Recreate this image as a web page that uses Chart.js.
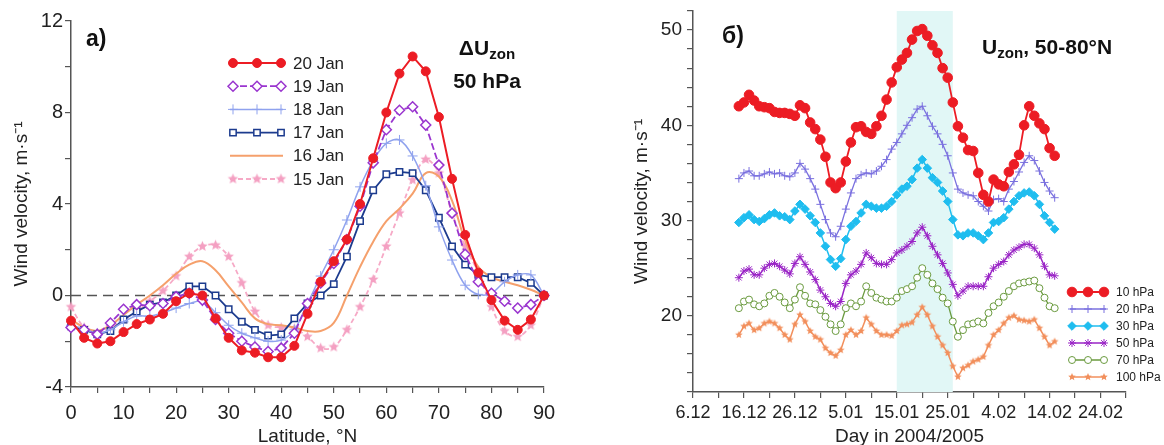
<!DOCTYPE html>
<html>
<head>
<meta charset="utf-8">
<script src="https://cdn.jsdelivr.net/npm/chart.js@4.4.1/dist/chart.umd.min.js"></script>
<style>
  html, body { margin: 0; padding: 0; background: #fff; }
  #wrap { position: relative; width: 1164px; height: 445px; overflow: hidden; font-family: "Liberation Sans", Arial, sans-serif; }
  canvas { position: absolute; top: 0; }
  #leftChart { left: 0; }
  #rightChart { left: 590px; }
  .note { position: absolute; font-weight: bold; color: #111; white-space: nowrap; line-height: 1; }
  .note sub { font-size: 72%; vertical-align: -0.28em; }
</style>
</head>
<body>
<div id="wrap">
  <canvas id="leftChart" width="590" height="445"></canvas>
  <canvas id="rightChart" width="574" height="445"></canvas>
  <div class="note" style="left:86px; top:27px; font-size:23px;">a)</div>
  <div class="note" style="left:427px; top:34px; width:120px; text-align:center; font-size:21px; line-height:27px;">ΔU<sub>zon</sub><br>50 hPa</div>
  <div class="note" style="left:722px; top:24px; font-size:23px;">б)</div>
  <div class="note" style="left:982px; top:36px; font-size:21px;">U<sub>zon</sub>, 50-80°N</div>
</div>
<script>
// ---- panel a): ΔUzon at 50 hPa vs latitude ----
const latitudes = [0, 2.5, 5, 7.5, 10, 12.5, 15, 17.5, 20, 22.5, 25, 27.5, 30, 32.5, 35, 37.5, 40, 42.5, 45,
    47.5, 50, 52.5, 55, 57.5, 60, 62.5, 65, 67.5, 70, 72.5, 75, 77.5, 80, 82.5, 85, 87.5, 90];

const jan20 = [-1.1, -1.85, -2.1, -2.0, -1.6, -1.25, -1.05, -0.8, -0.25, 0.1, 0.0, -1.0, -1.85, -2.4, -2.5, -2.7, -2.7, -2.2, -0.8,
    0.6, 1.5, 2.45, 4.0, 6.0, 8.0, 9.7, 10.45, 9.8, 7.8, 5.1, 2.65, 1.0, -0.2, -1.1, -1.5, -1.05, 0];
const jan19 = [-1.4, -1.5, -1.7, -1.2, -0.6, -0.4, -0.45, -0.35, -0.05, 0.1, -0.2, -1.05, -1.65, -2.0, -2.25, -2.45, -2.3, -1.65, -0.35,
    0.55, 1.4, 2.45, 3.9, 5.8, 7.25, 8.1, 8.25, 7.45, 5.7, 3.6, 1.8, 0.6, 0.1, -0.25, -0.55, -0.4, 0];
const jan18 = [-1.3, -1.45, -1.65, -1.5, -1.15, -0.9, -0.9, -0.75, -0.55, -0.35, -0.25, -0.75, -1.3, -1.65, -1.85, -2.0, -1.95, -1.5, -0.35,
    0.85, 2.0, 3.3, 4.75, 5.9, 6.65, 6.8, 6.1, 4.8, 3.0, 1.55, 0.45, 0.05, 0.1, 0.6, 0.9, 0.9, 0];
const jan17 = [-1.35, -1.5, -1.7, -1.55, -1.05, -0.7, -0.4, -0.3, 0.0, 0.4, 0.4, 0.0, -0.6, -1.15, -1.5, -1.75, -1.7, -1.0, -0.35,
    0.0, 0.5, 1.7, 3.25, 4.6, 5.3, 5.4, 5.35, 4.6, 3.4, 2.15, 1.35, 0.9, 0.8, 0.8, 0.8, 0.55, 0];
const jan16 = [-1.05, -1.4, -1.55, -1.3, -0.85, -0.4, 0, 0.45, 0.95, 1.35, 1.5, 1.1, 0.4, -0.3, -1.0, -1.25, -1.3, -1.4, -1.55,
    -1.55, -1.2, 0, 1.25, 2.35, 3.25, 3.8, 4.45, 5.35, 5.2, 4.15, 2.4, 1.25, 0.8, 0.6, 0.45, 0.25, 0];
const jan15 = [-0.5, -1.4, -1.65, -1.4, -1.05, -0.7, -0.25, 0.2, 0.85, 1.7, 2.15, 2.2, 1.7, 0.55, -0.7, -1.3, -1.4, -1.45, -1.8,
    -2.3, -2.25, -1.5, -0.5, 0.7, 2.15, 3.6, 5.05, 5.95, 5.35, 3.6, 2.15, 1.0, -0.5, -1.55, -1.8, -1.3, 0];

// ---- panel б): Uzon 50-80°N, days counted from 6.12.2004 ----
const days = Array.from({ length: 63 }, (_, i) => 9 + i);   // 15.12 ... 15.02
const dayTickLabels = ['6.12', '16.12', '26.12', '5.01', '15.01', '25.01', '4.02', '14.02', '24.02'];
const shadedDays = [40, 51];

const hpa10 = [42.0, 42.4, 43.2, 42.6, 42.0, 41.9, 41.8, 41.4, 41.3, 41.3, 41.2, 41.0,
    42.1, 41.8, 40.3, 39.6, 38.5, 36.7, 34.0, 33.4, 34.0, 36.2,
    38.2, 39.8, 39.9, 39.3, 39.1, 39.9, 41.0, 42.7, 44.5, 46.1,
    46.9, 47.6, 49.0, 49.9, 50.1, 49.4, 48.4, 47.6, 46.0, 45.0,
    42.4, 39.9, 38.7, 37.4, 37.3, 35.0, 32.7, 32.0, 34.3, 33.8,
    33.6, 35.1, 35.9, 36.9, 40.0, 42.0, 41.0, 40.2, 39.6, 37.6, 36.8];
const hpa20 = [34.4, 35.0, 35.2, 34.7, 34.7, 34.9, 35.1, 34.9, 35.0, 34.7, 34.6, 35.0,
    36.0, 35.4, 34.4, 33.3, 31.7, 30.1, 28.7, 28.3, 29.4, 31.2,
    32.9, 34.4, 34.8, 35.0, 34.9, 35.2, 35.7, 36.4, 37.5, 38.2,
    39.1, 40.0, 40.8, 41.7, 42.0, 41.0, 39.9, 39.1, 38.0, 36.8,
    35.0, 33.3, 32.9, 32.7, 32.6, 32.0, 31.5, 31.0, 32.2, 32.3,
    32.0, 33.3, 34.1, 35.1, 36.1, 36.8, 36.3, 35.2, 34.0, 33.1, 32.4];
const hpa30 = [29.8, 30.3, 30.6, 30.1, 29.9, 30.2, 30.6, 30.8, 30.5, 30.4, 30.1, 31.0,
    31.7, 31.2, 30.5, 29.8, 28.7, 27.3, 25.9, 25.2, 26.0, 28.0,
    29.4, 29.9, 30.8, 31.7, 31.5, 31.3, 31.3, 31.5, 32.0, 32.7,
    33.3, 33.6, 34.3, 35.5, 36.4, 35.5, 34.5, 34.0, 33.1, 32.0,
    30.1, 28.5, 28.4, 28.7, 28.7, 28.4, 28.0, 28.7, 29.8, 29.9,
    30.3, 31.2, 32.0, 32.6, 32.9, 33.0, 32.6, 31.7, 30.5, 29.8, 29.1];
const hpa50 = [24.0, 24.7, 24.9, 24.3, 24.3, 25.0, 25.4, 25.5, 25.2, 24.8, 24.4, 25.5,
    26.2, 25.4, 24.6, 23.8, 22.7, 22.0, 21.3, 21.0, 21.5, 23.4,
    24.3, 24.7, 25.4, 26.6, 26.1, 25.5, 25.4, 25.4, 25.9, 26.6,
    26.9, 27.3, 27.8, 28.7, 29.3, 28.4, 27.3, 26.4, 25.5, 24.5,
    23.3, 22.1, 22.6, 23.1, 23.1, 23.1, 23.1, 24.1, 25.0, 25.4,
    25.7, 26.4, 26.9, 27.2, 27.5, 27.5, 27.1, 26.4, 25.2, 24.3, 24.2];
const hpa70 = [20.8, 21.5, 21.7, 21.2, 21.0, 21.3, 22.1, 22.4, 22.0, 21.4, 20.8, 21.7,
    23.0, 22.1, 21.3, 21.2, 20.6, 19.9, 19.1, 18.4, 19.1, 20.8,
    21.3, 21.0, 21.5, 23.1, 22.4, 21.9, 21.7, 21.5, 21.5, 21.9,
    22.6, 22.8, 23.1, 24.0, 25.0, 24.3, 23.4, 22.8, 21.9, 21.3,
    19.4, 17.8, 18.5, 19.1, 19.2, 19.4, 19.2, 20.3, 21.0, 21.4,
    22.0, 22.6, 23.1, 23.4, 23.5, 23.6, 23.7, 22.9, 21.9, 21.0, 20.8];
const hpa100 = [18.0, 18.9, 19.2, 18.5, 18.7, 19.2, 19.4, 19.2, 18.7, 18.0, 17.5, 19.1,
    20.1, 19.4, 18.4, 17.8, 17.5, 16.6, 16.1, 15.8, 16.4, 18.0,
    18.5, 18.0, 18.4, 19.8, 19.1, 18.4, 18.0, 18.0, 17.9, 18.4,
    19.0, 19.1, 19.3, 20.1, 20.9, 20.1, 18.9, 17.8, 16.9, 16.1,
    14.7, 13.6, 14.5, 14.8, 15.2, 15.4, 15.7, 16.9, 18.0, 18.5,
    19.2, 19.8, 20.0, 19.6, 19.5, 19.4, 19.6, 18.7, 17.8, 16.9, 17.3];

// ---- styles ----
const FONT = '"Liberation Sans", Arial, sans-serif';
Chart.defaults.font.family = FONT;
Chart.defaults.color = '#222';

// filled five-point star used as a point style
function starMark(color, r) {
    const c = document.createElement('canvas');
    c.width = c.height = Math.ceil(2 * r + 2);
    const g = c.getContext('2d');
    const cx = c.width / 2, cy = c.height / 2;
    g.beginPath();
    for (let k = 0; k < 10; k++) {
        const rad = k % 2 === 0 ? r : r * 0.45;
        const a = -Math.PI / 2 + k * Math.PI / 5;
        g.lineTo(cx + rad * Math.cos(a), cy + rad * Math.sin(a));
    }
    g.closePath();
    g.fillStyle = color;
    g.fill();
    return c;
}

const leftSeries = [
    { label: '20 Jan', ys: jan20, color: '#ec1c24', width: 2, point: 'circle', r: 4.5, fill: '#ec1c24' },
    { label: '19 Jan', ys: jan19, color: '#9a35cf', width: 1.8, dash: [7, 3], point: 'rectRot', r: 5, fill: '#fff', pw: 1.5 },
    { label: '18 Jan', ys: jan18, color: '#8fa2ee', width: 1.5, point: 'cross', r: 5, fill: '#8fa2ee', tension: 0.35 },
    { label: '17 Jan', ys: jan17, color: '#1c3b8e', width: 1.8, point: 'rect', r: 4.5, fill: '#fff', pw: 1.5 },
    { label: '16 Jan', ys: jan16, color: '#f5a06c', width: 2, tension: 0.4 },
    { label: '15 Jan', ys: jan15, color: '#f6a9c6', width: 1.8, dash: [5, 3], point: starMark('#f4a0c2', 5.5), r: 5, fill: '#f6a9c6', tension: 0.35 }
];
const rightSeries = [
    { label: '10 hPa', ys: hpa10, color: '#ec1c24', width: 1.8, point: 'circle', r: 4.8, fill: '#ec1c24' },
    { label: '20 hPa', ys: hpa20, color: '#7a70df', width: 1.3, point: 'cross', r: 4, fill: '#7a70df' },
    { label: '30 hPa', ys: hpa30, color: '#1fbdef', width: 1.5, point: 'rectRot', r: 4.3, fill: '#1fbdef' },
    { label: '50 hPa', ys: hpa50, color: '#9a24c6', width: 1.5, point: 'star', r: 4, fill: '#9a24c6' },
    { label: '70 hPa', ys: hpa70, color: '#6a9a3e', width: 1.3, point: 'circle', r: 3.5, fill: '#fff' },
    { label: '100 hPa', ys: hpa100, color: '#f28f5c', width: 1.5, point: starMark('#f28f5c', 4), r: 3, fill: '#f28f5c' }
];

function toDataset(s, xs) {
    return {
        label: s.label,
        data: xs.map((x, i) => ({ x: x, y: s.ys[i] })),
        borderColor: s.color,
        backgroundColor: s.fill || s.color,
        borderWidth: s.width,
        borderDash: s.dash || [],
        pointStyle: s.point || 'circle',
        pointRadius: s.point ? s.r : 0,
        pointBorderColor: s.color,
        pointBackgroundColor: s.fill || s.color,
        pointBorderWidth: s.pw || 1,
        tension: s.tension || 0,
        clip: false
    };
}

function drawMarker(ctx, s, x, y) {
    if (!s.point) return;
    ctx.save();
    ctx.setLineDash([]);
    ctx.fillStyle = s.fill || s.color;
    ctx.strokeStyle = s.color;
    ctx.lineWidth = s.pw || 1;
    Chart.helpers.drawPoint(ctx, { pointStyle: s.point, radius: s.r, rotation: 0, borderWidth: s.pw || 1 }, x, y);
    ctx.restore();
}

function legendPlugin(id, series, box) {
    return {
        id: id,
        afterDraw(chart) {
            const ctx = chart.ctx;
            ctx.save();
            series.forEach((s, i) => {
                const y = box.y + i * box.step;
                ctx.strokeStyle = s.color;
                ctx.lineWidth = s.width;
                ctx.setLineDash(s.dash || []);
                ctx.beginPath();
                ctx.moveTo(box.x0, y);
                ctx.lineTo(box.x1, y);
                ctx.stroke();
                box.marks.forEach(mx => drawMarker(ctx, s, mx, y));
                ctx.setLineDash([]);
                ctx.fillStyle = '#222';
                ctx.font = box.font + 'px ' + FONT;
                ctx.textBaseline = 'middle';
                ctx.textAlign = 'left';
                ctx.fillText(s.label, box.tx, y + 1);
            });
            ctx.restore();
        }
    };
}

const zeroLine = {
    id: 'zeroLine',
    beforeDatasetsDraw(chart) {
        const { ctx, chartArea, scales } = chart;
        const y = scales.y.getPixelForValue(0);
        ctx.save();
        ctx.strokeStyle = '#555';
        ctx.lineWidth = 1.3;
        ctx.setLineDash([10, 6]);
        ctx.beginPath();
        ctx.moveTo(chartArea.left, y);
        ctx.lineTo(chartArea.right, y);
        ctx.stroke();
        ctx.restore();
    }
};

const shade = {
    id: 'shade',
    beforeDatasetsDraw(chart) {
        const { ctx, chartArea, scales } = chart;
        const x0 = scales.x.getPixelForValue(shadedDays[0]);
        const x1 = scales.x.getPixelForValue(shadedDays[1]);
        ctx.save();
        ctx.fillStyle = '#e1f7f6';
        ctx.fillRect(x0, chartArea.top, x1 - x0, chartArea.bottom - chartArea.top);
        ctx.restore();
    }
};

function axis(opts) {
    return {
        type: 'linear',
        min: opts.min,
        max: opts.max,
        ticks: {
            stepSize: opts.step,
            autoSkip: false,
            maxRotation: 0,
            color: '#222',
            padding: opts.pad,
            font: { size: opts.font },
            callback: opts.label
        },
        grid: { drawOnChartArea: false, drawTicks: true, tickLength: 6, color: '#555', lineWidth: 1.2 },
        border: { display: true, color: '#555', width: 1.5 },
        title: {
            display: true, text: opts.title, color: '#222',
            font: { size: opts.titleFont, lineHeight: 1 }, padding: opts.titlePad
        },
        afterFit(scale) {
            if (scale.isHorizontal()) {
                scale.height = opts.size;
                scale.paddingLeft = 0;
                scale.paddingRight = 0;
            } else {
                scale.width = opts.size;
                scale.paddingTop = 0;
                scale.paddingBottom = 0;
            }
        }
    };
}

const common = {
    responsive: false,
    animation: false,
    events: [],
    plugins: { legend: { display: false }, tooltip: { enabled: false } }
};

// ======== panel a) ========
new Chart(document.getElementById('leftChart'), {
    type: 'line',
    data: { datasets: leftSeries.map(s => toDataset(s, latitudes)) },
    options: Object.assign({}, common, {
        layout: { padding: { top: 21, right: 46, left: 0, bottom: 0 }, autoPadding: false },
        scales: {
            x: axis({ min: 0, max: 90, step: 5, font: 20, pad: 8, size: 58,
                label: v => (v % 10 === 0 ? String(v) : ''),
                title: 'Latitude, °N', titleFont: 19, titlePad: { top: 0, bottom: -1.5 } }),
            y: axis({ min: -4, max: 12, step: 2, font: 20, pad: 2, size: 71,
                label: v => (v % 4 === 0 ? String(v) : ''),
                title: 'Wind velocity, m·s⁻¹', titleFont: 19, titlePad: { top: 12, bottom: 0 } })
        }
    }),
    plugins: [zeroLine, legendPlugin('legendLeft', leftSeries,
        { x0: 230, x1: 283, marks: [233, 257, 281], tx: 293, y: 63, step: 23.2, font: 17 })]
});

// ======== panel б) ========
new Chart(document.getElementById('rightChart'), {
    type: 'line',
    data: { datasets: rightSeries.map(s => toDataset(s, days)) },
    options: Object.assign({}, common, {
        layout: { padding: { top: 11, right: 38, left: 0, bottom: 0 }, autoPadding: false },
        scales: {
            x: axis({ min: 0, max: 85, step: 5, font: 18, pad: 4, size: 53,
                label: v => (v % 10 === 0 ? dayTickLabels[v / 10] : ''),
                title: 'Day in 2004/2005', titleFont: 19, titlePad: { top: 0, bottom: -1.5 } }),
            y: axis({ min: 12, max: 52, step: 2, font: 19, pad: 5, size: 103,
                label: v => (v % 10 === 0 ? String(v) : ''),
                title: 'Wind velocity, m·s⁻¹', titleFont: 19, titlePad: { top: 42, bottom: 0 } })
        }
    }),
    plugins: [shade, legendPlugin('legendRight', rightSeries,
        { x0: 480, x1: 516, marks: [482, 498, 514], tx: 526, y: 292, step: 17, font: 12 })]
});
</script>
</body>
</html>
